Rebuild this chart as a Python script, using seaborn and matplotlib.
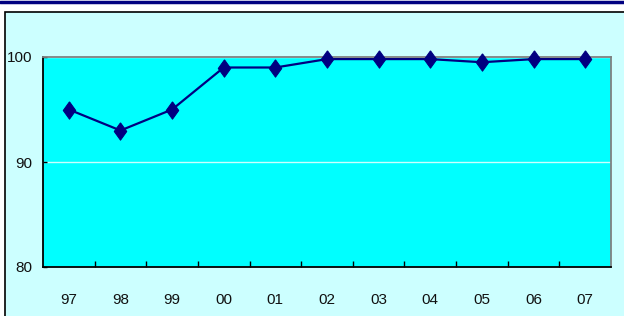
import matplotlib
matplotlib.use("Agg")
from matplotlib import pyplot as plt
from matplotlib.patches import Rectangle
from matplotlib.lines import Line2D
import seaborn as sns
import numpy as np

years = ['97', '98', '99', '00', '01', '02', '03', '04', '05', '06', '07']
values = [95.0, 93.0, 95.0, 99.0, 99.0, 99.8, 99.8, 99.8, 99.5, 99.8, 99.8]
y_ticks = [80, 90, 100]

sns.set_style("white")
plt.rcParams['font.family'] = ['Liberation Sans', 'DejaVu Sans']

fig = plt.figure(figsize=(6.24, 3.16), dpi=100, facecolor='white')

# outer frame + top band
fig.patches.append(Rectangle((5 / 624, -0.1), 1.0, 1.1 - 12 / 316,
                             transform=fig.transFigure, facecolor='#CCFFFF',
                             edgecolor='black', linewidth=1.2, zorder=-10))
fig.lines.append(Line2D([0, 1], [1 - 1.5 / 316, 1 - 1.5 / 316], transform=fig.transFigure,
                        color='#000080', linewidth=2.5, zorder=-10))

ax = fig.add_axes([43 / 624, 1 - 267 / 316, 568 / 624, 210 / 316])
ax.set_zorder(5)
ax.set_facecolor('#00FFFF')

x = np.arange(len(years))
diamond = [(0, 1), (0.72, 0), (0, -1), (-0.72, 0), (0, 1)]
sns.lineplot(x=x, y=values, ax=ax, color='#000080', linewidth=1.6,
             marker=diamond, markersize=12.5, markeredgecolor='#000080',
             markerfacecolor='#000080', clip_on=False, zorder=5)

ax.set_xlim(-0.5, len(years) - 0.5)
ax.set_ylim(80, 100)
ax.set_yticks(y_ticks)
ax.set_yticklabels([str(v) for v in y_ticks], fontsize=11, color='#111111')
ax.yaxis.grid(True, color='#CCFFFF', linewidth=1)
ax.xaxis.grid(False)
ax.set_axisbelow(True)

# tick marks between categories, labels at centers
ax.set_xticks(np.arange(0.5, len(years) - 1, 1.0))
ax.set_xticklabels([])
ax.set_xticks(x, minor=True)
ax.set_xticklabels(years, minor=True, fontsize=11, color='#111111')
ax.tick_params(axis='x', which='major', bottom=True, direction='in', length=4, width=1, color='black')
ax.tick_params(axis='x', which='minor', bottom=True, length=0, pad=19)
ax.tick_params(axis='y', left=True, direction='in', length=3, width=1, color='black', pad=8)

for side in ['left', 'bottom']:
    ax.spines[side].set_color('black')
    ax.spines[side].set_linewidth(1.3)
for side in ['top', 'right']:
    ax.spines[side].set_color('#808080')
    ax.spines[side].set_linewidth(1.3)

ax.set_xlabel('')
ax.set_ylabel('')

plt.savefig('out.png', dpi=100, facecolor=fig.get_facecolor())
